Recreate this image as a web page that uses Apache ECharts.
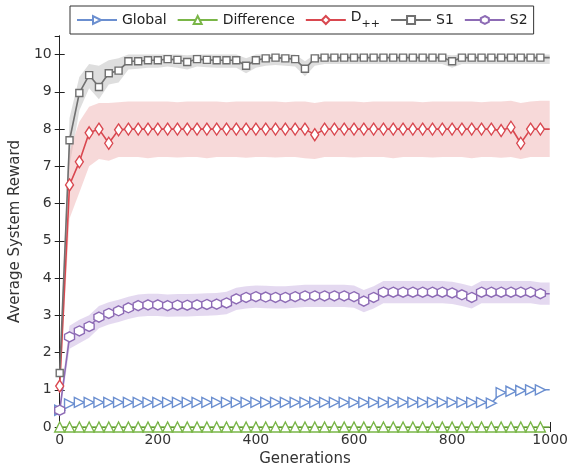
<!DOCTYPE html>
<html>
<head>
<meta charset="utf-8">
<script src="https://cdn.jsdelivr.net/npm/echarts@6/dist/echarts.min.js"></script>
<style>
  html, body { margin: 0; padding: 0; background: #fff; }
  #chart { width: 571px; height: 474px; }
</style>
</head>
<body>
<div id="chart"></div>
<script>
// Average system reward per generation (markers every 20 generations, last point 999 has no marker)
const gens = [0, 20, 40, 60, 80, 100, 120, 140, 160, 180, 200, 220, 240, 260, 280, 300, 320, 340, 360, 380,
  400, 420, 440, 460, 480, 500, 520, 540, 560, 580, 600, 620, 640, 660, 680, 700, 720, 740, 760, 780,
  800, 820, 840, 860, 880, 900, 920, 940, 960, 980, 999];

const globalVals = [0.45, 0.62, 0.66, 0.66, 0.66, 0.66, 0.66, 0.66, 0.66, 0.66, 0.66, 0.66, 0.66, 0.66, 0.66, 0.66, 0.66, 0.66, 0.66, 0.66,
  0.66, 0.66, 0.66, 0.66, 0.66, 0.66, 0.66, 0.66, 0.66, 0.66, 0.66, 0.66, 0.66, 0.66, 0.66, 0.66, 0.66, 0.66, 0.66, 0.66,
  0.66, 0.66, 0.66, 0.66, 0.64, 0.92, 0.96, 0.98, 1.0, 1.0, 1.0];

const diffVals = [0, 0, 0, 0, 0, 0, 0, 0, 0, 0, 0, 0, 0, 0, 0, 0, 0, 0, 0, 0,
  0, 0, 0, 0, 0, 0, 0, 0, 0, 0, 0, 0, 0, 0, 0, 0, 0, 0, 0, 0,
  0, 0, 0, 0, 0, 0, 0, 0, 0, 0, 0];

const dppVals = [1.1, 6.5, 7.12, 7.9, 8.0, 7.62, 7.98, 8.0, 8.0, 8.0, 8.0, 8.0, 8.0, 8.0, 8.0, 8.0, 8.0, 8.0, 8.0, 8.0,
  8.0, 8.0, 8.0, 8.0, 8.0, 8.0, 7.85, 8.0, 8.0, 8.0, 8.0, 8.0, 8.0, 8.0, 8.0, 8.0, 8.0, 8.0, 8.0, 8.0,
  8.0, 8.0, 8.0, 8.0, 8.0, 7.96, 8.05, 7.62, 8.0, 8.0, 8.0];
const dppLow = [0.9, 5.6, 6.3, 7.0, 7.2, 7.15, 7.25, 7.25, 7.25, 7.22, 7.25, 7.25, 7.24, 7.25, 7.25, 7.22, 7.25, 7.25, 7.25, 7.23,
  7.25, 7.25, 7.24, 7.25, 7.25, 7.22, 7.2, 7.25, 7.25, 7.25, 7.24, 7.25, 7.25, 7.25, 7.22, 7.25, 7.25, 7.25, 7.24, 7.25,
  7.25, 7.25, 7.22, 7.25, 7.25, 7.23, 7.25, 7.2, 7.25, 7.25, 7.25];
const dppHigh = [1.3, 7.4, 8.2, 8.6, 8.7, 8.7, 8.72, 8.74, 8.74, 8.74, 8.74, 8.74, 8.72, 8.74, 8.74, 8.74, 8.74, 8.72, 8.74, 8.74,
  8.74, 8.74, 8.74, 8.72, 8.74, 8.74, 8.7, 8.74, 8.74, 8.74, 8.74, 8.72, 8.74, 8.74, 8.74, 8.74, 8.74, 8.72, 8.74, 8.74,
  8.74, 8.74, 8.74, 8.72, 8.74, 8.74, 8.76, 8.7, 8.74, 8.76, 8.76];

const s1Vals = [1.45, 7.7, 8.97, 9.45, 9.13, 9.5, 9.57, 9.82, 9.82, 9.85, 9.85, 9.88, 9.86, 9.8, 9.88, 9.86, 9.85, 9.85, 9.85, 9.7,
  9.85, 9.9, 9.92, 9.9, 9.88, 9.62, 9.9, 9.92, 9.92, 9.92, 9.92, 9.92, 9.92, 9.92, 9.92, 9.92, 9.92, 9.92, 9.92, 9.92,
  9.82, 9.92, 9.92, 9.92, 9.92, 9.92, 9.92, 9.92, 9.92, 9.92, 9.92];
const s1Low = [1.3, 7.0, 8.5, 9.1, 8.8, 9.2, 9.25, 9.6, 9.62, 9.65, 9.65, 9.68, 9.65, 9.6, 9.68, 9.66, 9.65, 9.65, 9.65, 9.5,
  9.65, 9.7, 9.72, 9.7, 9.68, 9.42, 9.7, 9.75, 9.75, 9.75, 9.75, 9.75, 9.75, 9.75, 9.75, 9.75, 9.75, 9.75, 9.75, 9.75,
  9.65, 9.75, 9.75, 9.75, 9.75, 9.75, 9.75, 9.75, 9.75, 9.75, 9.75];
const s1High = [1.6, 8.3, 9.4, 9.75, 9.7, 9.85, 9.9, 10.0, 10.0, 10.0, 10.0, 10.0, 10.0, 9.98, 10.0, 10.0, 10.0, 10.0, 10.0, 9.9,
  10.0, 10.0, 10.0, 10.0, 10.0, 9.82, 10.0, 10.0, 10.0, 10.0, 10.0, 10.0, 10.0, 10.0, 10.0, 10.0, 10.0, 10.0, 10.0, 10.0,
  9.98, 10.0, 10.0, 10.0, 10.0, 10.0, 10.0, 10.0, 10.0, 10.0, 10.0];

const s2Vals = [0.45, 2.42, 2.58, 2.7, 2.95, 3.05, 3.12, 3.2, 3.26, 3.28, 3.28, 3.26, 3.27, 3.27, 3.28, 3.29, 3.3, 3.33, 3.44, 3.48,
  3.5, 3.49, 3.48, 3.48, 3.5, 3.52, 3.52, 3.52, 3.52, 3.52, 3.5, 3.38, 3.48, 3.62, 3.62, 3.62, 3.62, 3.62, 3.62, 3.62,
  3.6, 3.55, 3.48, 3.62, 3.62, 3.62, 3.62, 3.62, 3.62, 3.58, 3.58];
const s2Low = [0.3, 2.1, 2.25, 2.4, 2.65, 2.75, 2.82, 2.9, 2.96, 2.98, 2.98, 2.96, 2.97, 2.97, 2.98, 2.99, 3.0, 3.03, 3.14, 3.18,
  3.2, 3.19, 3.18, 3.18, 3.2, 3.22, 3.22, 3.22, 3.22, 3.22, 3.2, 3.08, 3.18, 3.32, 3.32, 3.32, 3.32, 3.32, 3.32, 3.32,
  3.3, 3.25, 3.18, 3.32, 3.32, 3.32, 3.32, 3.32, 3.32, 3.28, 3.28];
const s2High = [0.6, 2.72, 2.88, 3.0, 3.25, 3.35, 3.42, 3.5, 3.56, 3.58, 3.58, 3.56, 3.57, 3.57, 3.58, 3.59, 3.6, 3.63, 3.74, 3.78,
  3.8, 3.79, 3.78, 3.78, 3.8, 3.82, 3.82, 3.82, 3.82, 3.82, 3.8, 3.68, 3.78, 3.92, 3.92, 3.92, 3.92, 3.92, 3.92, 3.92,
  3.9, 3.85, 3.78, 3.92, 3.92, 3.92, 3.92, 3.92, 3.92, 3.88, 3.88];

const xTicks = [0, 200, 400, 600, 800, 1000];
const legendNames = ['Global', 'Difference', 'D++', 'S1', 'S2'];

const colors = {
  'Global': '#6b8fd0',
  'Difference': '#7ab648',
  'D++': '#d9474f',
  'S1': '#707070',
  'S2': '#8d6bb5'
};
const bandColors = {
  'D++': 'rgba(240, 180, 180, 0.5)',
  'S1': 'rgba(190, 190, 190, 0.5)',
  'S2': 'rgba(205, 185, 228, 0.55)'
};

const hexagon = 'path://M0,-10 L8.66,-5 L8.66,5 L0,10 L-8.66,5 L-8.66,-5 Z';

// [x, y] pairs; the final (gen 999) point only carries the line to the edge
function pairs(vals) {
  return gens.map((g, i) => i === gens.length - 1
    ? { value: [g, vals[i]], symbol: 'none' }
    : [g, vals[i]]);
}

// shaded spread drawn as one polygon through the axis scales
function bandSeries(name, low, high) {
  return {
    type: 'custom', silent: true, z: 1,
    data: gens.map((g, i) => [g, low[i], high[i]]),
    encode: { x: 0, y: [1, 2] },
    renderItem: function (params, api) {
      if (params.dataIndex !== 0) return;
      const pts = [];
      for (let i = 0; i < gens.length; i++) pts.push(api.coord([gens[i], high[i]]));
      for (let i = gens.length - 1; i >= 0; i--) pts.push(api.coord([gens[i], low[i]]));
      return { type: 'polygon', shape: { points: pts }, style: { fill: bandColors[name] } };
    }
  };
}

function lineSeries(name, vals, symbol, size, rotate) {
  return {
    name: name, type: 'line', data: pairs(vals),
    symbol: symbol, symbolSize: size, symbolRotate: rotate || 0,
    showAllSymbol: true, clip: false,
    lineStyle: { color: colors[name], width: 1.6 },
    itemStyle: { color: '#fff', borderColor: colors[name], borderWidth: 1.4 },
    z: 3
  };
}

const chart = echarts.init(document.getElementById('chart'), null, { renderer: 'canvas' });

const axisText = { color: '#333', fontSize: 14, fontFamily: 'DejaVu Sans' };

chart.setOption({
  animation: false,
  textStyle: { fontFamily: 'DejaVu Sans' },
  grid: { left: 58, right: 18, top: 36, bottom: 47 },
  legend: {
    data: legendNames,
    left: 70, top: 6,
    itemWidth: 40, itemHeight: 10, itemGap: 10,
    padding: [4, 6, 4, 6],
    borderColor: '#333', borderWidth: 1,
    textStyle: {
      color: '#222', fontSize: 14, fontFamily: 'DejaVu Sans',
      rich: {
        d: { fontSize: 14, color: '#222', verticalAlign: 'top', padding: [0, 0, 6, 0] },
        s: { fontSize: 11, color: '#222', verticalAlign: 'bottom', padding: [6, 0, 0, 0] }
      }
    },
    formatter: function (name) {
      return name === 'D++' ? '{d|D}{s|++}' : name;
    }
  },
  xAxis: [
    {
      type: 'value', min: 0, max: 1000, interval: 200,
      name: 'Generations', nameLocation: 'middle', nameGap: 24,
      nameTextStyle: { color: '#333', fontSize: 15, fontFamily: 'DejaVu Sans' },
      axisLine: { lineStyle: { color: '#222', width: 1 } },
      axisTick: { inside: true, length: 5, lineStyle: { color: '#222' } },
      axisLabel: Object.assign({ margin: 6, formatter: v => xTicks.includes(v) ? String(v) : '' }, axisText),
      splitLine: { show: false }
    },
    {
      type: 'value', min: 0, max: 1000, interval: 200, position: 'top',
      axisLine: { lineStyle: { color: '#222', width: 1 } },
      axisTick: { inside: true, length: 5, lineStyle: { color: '#222' } },
      axisLabel: { show: false },
      splitLine: { show: false }
    }
  ],
  yAxis: [
    {
      type: 'value', min: 0, max: 10.5, interval: 1,
      name: 'Average System Reward', nameLocation: 'middle', nameGap: 32,
      nameTextStyle: { color: '#333', fontSize: 15, fontFamily: 'DejaVu Sans' },
      axisLine: { show: true, lineStyle: { color: '#222', width: 1 } },
      axisTick: { show: true, inside: true, length: 5, lineStyle: { color: '#222' } },
      axisLabel: Object.assign({ margin: 8, showMaxLabel: false }, axisText),
      splitLine: { show: false }
    },
    {
      type: 'value', min: 0, max: 10.5, interval: 1, position: 'right',
      axisLine: { show: true, lineStyle: { color: '#222', width: 1 } },
      axisTick: { show: true, inside: true, length: 5, lineStyle: { color: '#222' } },
      axisLabel: { show: false },
      splitLine: { show: false }
    }
  ],
  series: [
    bandSeries('S1', s1Low, s1High),
    bandSeries('D++', dppLow, dppHigh),
    bandSeries('S2', s2Low, s2High),
    lineSeries('Global', globalVals, 'triangle', 10, -90),
    lineSeries('Difference', diffVals, 'triangle', 10, 0),
    lineSeries('D++', dppVals, 'diamond', [8, 12], 0),
    lineSeries('S1', s1Vals, 'rect', 7, 0),
    lineSeries('S2', s2Vals, hexagon, 10, 0)
  ]
});
</script>
</body>
</html>
